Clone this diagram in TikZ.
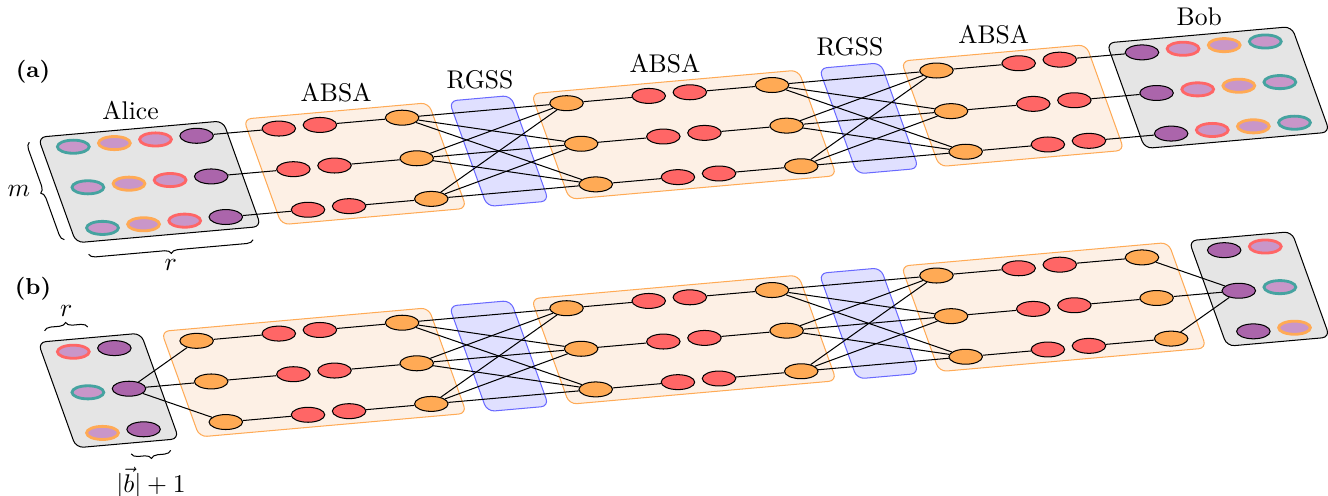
\documentclass[tikz,border=0pt]{standalone}
\usepackage{amsmath,amssymb}
\usepackage{tikz}
\usetikzlibrary{shapes.geometric, decorations.pathreplacing}

\definecolor{qred}{RGB}{255,102,102}
\definecolor{qorange}{RGB}{255,170,85}
\definecolor{qpurple}{RGB}{171,101,171}
\definecolor{qlilac}{RGB}{201,150,201}
\definecolor{qteal}{RGB}{70,163,160}
\definecolor{absabg}{RGB}{253,240,229}
\definecolor{rgssbg}{RGB}{224,224,255}
\definecolor{rgssedge}{RGB}{105,105,255}

\begin{document}
\begin{tikzpicture}[
    x={(0.5643cm,0.0498cm)}, y={(-0.2004cm,0.5574cm)},
    qb/.style={ellipse, draw=black, inner sep=0pt, minimum width=0.46cm, minimum height=0.205cm},
    pnode/.style={qb, fill=qpurple},
    rnode/.style={qb, fill=qred},
    onode/.style={qb, fill=qorange},
    ring/.style={ellipse, draw=#1, line width=1.1pt, fill=qlilac, inner sep=0pt,
                 minimum width=0.437cm, minimum height=0.18cm},
    partybox/.style={draw=black, fill=black!10, rounded corners=3pt},
    absabox/.style={draw=qorange, fill=absabg, rounded corners=3pt},
    rgssbox/.style={draw=rgssedge, fill=rgssbg, rounded corners=3pt},
    boxlbl/.style={above},
    panellbl/.style={font=\small\bfseries},
    bracedeco/.style={decorate, decoration={brace, amplitude=2.5pt}},
    bracemirror/.style={decorate, decoration={brace, amplitude=2.5pt, mirror}}
]
\useasboundingbox (-1.0063cm,2.0140cm) rectangle (17.2257cm,-4.7818cm);

%% ================= (a) =================
\node[panellbl] (aTag) at (-0.5533cm,1.0256cm) {(a)};
% Boxes
\draw[partybox] (-0.75,0.3) -- (3.75,0.3) -- (3.75,-2.3) -- (-0.75,-2.3) -- cycle;
\draw[absabox]  (4.25,0.3) -- (8.75,0.3) -- (8.75,-2.3) -- (4.25,-2.3) -- cycle;
\draw[rgssbox]  (9.25,0.3) -- (10.75,0.3) -- (10.75,-2.3) -- (9.25,-2.3) -- cycle;
\draw[absabox]  (11.25,0.3) -- (17.75,0.3) -- (17.75,-2.3) -- (11.25,-2.3) -- cycle;
\draw[rgssbox]  (18.25,0.3) -- (19.75,0.3) -- (19.75,-2.3) -- (18.25,-2.3) -- cycle;
\draw[absabox]  (20.25,0.3) -- (24.75,0.3) -- (24.75,-2.3) -- (20.25,-2.3) -- cycle;
\draw[partybox] (25.25,0.3) -- (29.75,0.3) -- (29.75,-2.3) -- (25.25,-2.3) -- cycle;
% Box titles
\node[boxlbl] (aAliceLbl) at (1.5,0.3)  {Alice};
\node[boxlbl] (aAbsaLblA) at (6.5,0.3)  {ABSA};
\node[boxlbl] (aRgssLblA) at (10,0.3)   {RGSS};
\node[boxlbl] (aAbsaLblB) at (14.5,0.3) {ABSA};
\node[boxlbl] (aRgssLblB) at (19,0.3)   {RGSS};
\node[boxlbl] (aAbsaLblC) at (22.5,0.3) {ABSA};
\node[boxlbl] (aBobLbl)   at (27.5,0.3) {Bob};
% Qubits, one row per \r
\foreach \r in {0,1,2} {
  % --- Alice
  \node[ring=qteal]   (aAt\r) at (0,-\r) {};
  \node[ring=qorange] (aAo\r) at (1,-\r) {};
  \node[ring=qred]    (aAr\r) at (2,-\r) {};
  \node[pnode]        (aAp\r) at (3,-\r) {};
  % --- ABSA stages
  \node[rnode] (a1x\r)   at (5,-\r)  {};
  \node[rnode] (a1y\r)   at (6,-\r)  {};
  \node[onode] (a1out\r) at (8,-\r)  {};
  \node[onode] (a2in\r)  at (12,-\r) {};
  \node[rnode] (a2x\r)   at (14,-\r) {};
  \node[rnode] (a2y\r)   at (15,-\r) {};
  \node[onode] (a2out\r) at (17,-\r) {};
  \node[onode] (a3in\r)  at (21,-\r) {};
  \node[rnode] (a3x\r)   at (23,-\r) {};
  \node[rnode] (a3y\r)   at (24,-\r) {};
  % --- Bob
  \node[pnode]        (aBp\r) at (26,-\r) {};
  \node[ring=qred]    (aBr\r) at (27,-\r) {};
  \node[ring=qorange] (aBo\r) at (28,-\r) {};
  \node[ring=qteal]   (aBt\r) at (29,-\r) {};
}
% Links along the rows, and all-to-all across each RGSS
\foreach \r in {0,1,2} {
  \draw (aAp\r) -- (a1x\r);
  \draw (a1y\r) -- (a1out\r);
  \draw (a2in\r) -- (a2x\r);
  \draw (a2y\r) -- (a2out\r);
  \draw (a3in\r) -- (a3x\r);
  \draw (a3y\r) -- (aBp\r);
  \foreach \s in {0,1,2} {
    \draw (a1out\r) -- (a2in\s);
    \draw (a2out\r) -- (a3in\s);
  }
}
% Braces
\coordinate (aMbot) at (-1,-2.2);
\coordinate (aMtop) at (-1,0.2);
\draw[bracedeco] (aMbot) -- (aMtop) node[midway, left=3pt] (aMlbl) {$m$};
\coordinate (aRleft)  at (-0.55,-2.6);
\coordinate (aRright) at (3.45,-2.6);
\draw[bracemirror] (aRleft) -- (aRright) node[midway, below=1.5pt] (aRlbl) {$r$};

%% ================= (b) =================
\begin{scope}[yshift=-2.8147cm]
\node[panellbl] (bTag) at (-0.5533cm,0.8608cm) {(b)};
% Boxes
\draw[partybox] (-0.75,0.3) -- (1.75,0.3) -- (1.75,-2.3) -- (-0.75,-2.3) -- cycle;
\draw[absabox]  (2.25,0.3) -- (8.75,0.3) -- (8.75,-2.3) -- (2.25,-2.3) -- cycle;
\draw[rgssbox]  (9.25,0.3) -- (10.75,0.3) -- (10.75,-2.3) -- (9.25,-2.3) -- cycle;
\draw[absabox]  (11.25,0.3) -- (17.75,0.3) -- (17.75,-2.3) -- (11.25,-2.3) -- cycle;
\draw[rgssbox]  (18.25,0.3) -- (19.75,0.3) -- (19.75,-2.3) -- (18.25,-2.3) -- cycle;
\draw[absabox]  (20.25,0.3) -- (26.75,0.3) -- (26.75,-2.3) -- (20.25,-2.3) -- cycle;
\draw[partybox] (27.25,0.3) -- (29.75,0.3) -- (29.75,-2.3) -- (27.25,-2.3) -- cycle;
% Qubits
\foreach \r/\c in {0/qred, 1/qteal, 2/qorange} {
  % --- Alice
  \node[ring=\c] (bAc\r) at (0,-\r) {};
  \node[pnode]   (bAp\r) at (1,-\r) {};
  % --- ABSA stages
  \node[onode] (b1in\r)  at (3,-\r)  {};
  \node[rnode] (b1x\r)   at (5,-\r)  {};
  \node[rnode] (b1y\r)   at (6,-\r)  {};
  \node[onode] (b1out\r) at (8,-\r)  {};
  \node[onode] (b2in\r)  at (12,-\r) {};
  \node[rnode] (b2x\r)   at (14,-\r) {};
  \node[rnode] (b2y\r)   at (15,-\r) {};
  \node[onode] (b2out\r) at (17,-\r) {};
  \node[onode] (b3in\r)  at (21,-\r) {};
  \node[rnode] (b3x\r)   at (23,-\r) {};
  \node[rnode] (b3y\r)   at (24,-\r) {};
  \node[onode] (b3out\r) at (26,-\r) {};
  % --- Bob
  \node[pnode]   (bBp\r) at (28,-\r) {};
  \node[ring=\c] (bBc\r) at (29,-\r) {};
}
% Links
\foreach \r in {0,1,2} {
  \draw (bAp1) -- (b1in\r);
  \draw (b1in\r) -- (b1x\r);
  \draw (b1y\r) -- (b1out\r);
  \draw (b2in\r) -- (b2x\r);
  \draw (b2y\r) -- (b2out\r);
  \draw (b3in\r) -- (b3x\r);
  \draw (b3y\r) -- (b3out\r);
  \draw (b3out\r) -- (bBp1);
  \foreach \s in {0,1,2} {
    \draw (b1out\r) -- (b2in\s);
    \draw (b2out\r) -- (b3in\s);
  }
}
% Braces
\coordinate (bRleft)  at (-0.5,0.56);
\coordinate (bRright) at (0.55,0.56);
\draw[bracedeco] (bRleft) -- (bRright) node[midway, above=1.5pt] (bRlbl) {$r$};
\coordinate (bBleft)  at (0.5,-2.56);
\coordinate (bBright) at (1.46,-2.56);
\draw[bracemirror] (bBleft) -- (bBright) node[midway, below=2.5pt] (bBlbl) {$|\vec{b}|+1$};
\end{scope}
\end{tikzpicture}
\end{document}
